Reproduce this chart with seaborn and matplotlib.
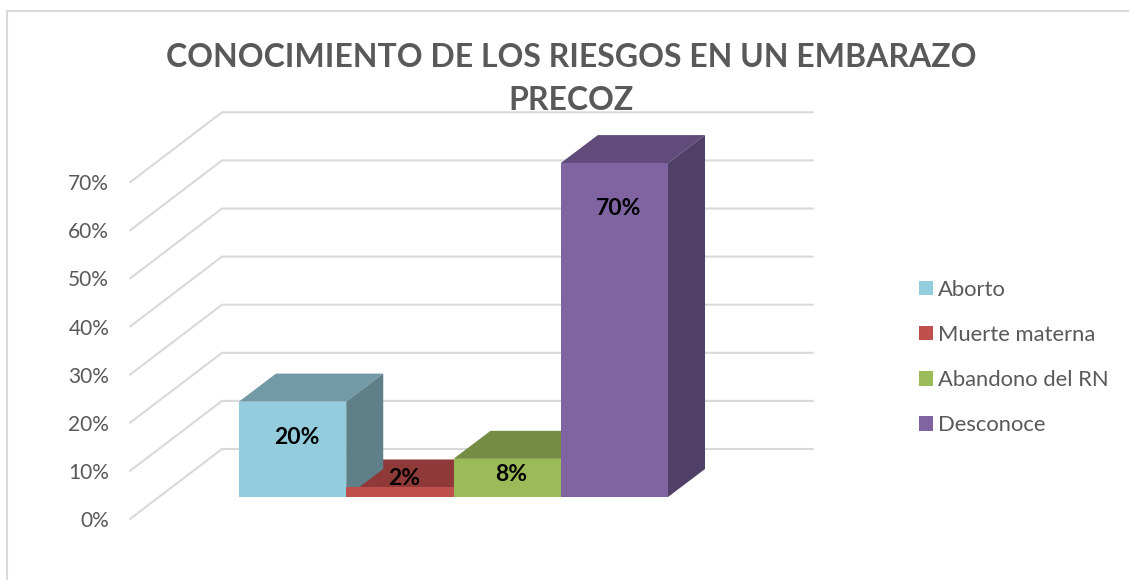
import matplotlib
matplotlib.use('Agg')
import matplotlib.pyplot as plt
import pandas as pd
import seaborn as sns

riesgos = ['Aborto', 'Muerte materna', 'Abandono del RN', 'Desconoce']
porcentajes = [20, 2, 8, 70]
etiquetas = ['20%', '2%', '8%', '70%']
ticks = [0, 10, 20, 30, 40, 50, 60, 70]
tick_labels = ['0%', '10%', '20%', '30%', '40%', '50%', '60%', '70%']

colores = ['#93CDDD', '#C0504D', '#9BBB59', '#8064A2']
colores_top = ['#7299A6', '#8F3A38', '#748C43', '#604B7A']
colores_side = ['#5F8088', '#7A302E', '#62763A', '#503F66']

W, H = 1129, 580
GRID = '#D9D9D9'
TEXTO = '#595959'


def box(left, top, right, bottom):
    # pixel box of the picture to figure fractions
    return [left / W, 1 - bottom / H, (right - left) / W, (bottom - top) / H]


sns.set_theme(style='white')
plt.rcParams['font.family'] = ['Lato', 'DejaVu Sans']

df = pd.DataFrame({'riesgo': riesgos, 'valor': porcentajes})
fig = plt.figure(figsize=(W / 100, H / 100), dpi=100)

# frame of the chart, only top and left are in the picture
fig.add_artist(plt.Line2D([7 / W, 7 / W, 1], [0, 1 - 11 / H, 1 - 11 / H], color=GRID, lw=1.5))

# walls, 4.81 px per percent
wall = fig.add_axes(box(130, 112, 813, 519))
wall.patch.set_alpha(0)
wall.set_xlim(130, 813)
wall.set_ylim(0, 407 / 4.81)
for t in ticks:
    wall.plot([130, 222, 813], [t, t + 70 / 4.81, t + 70 / 4.81], color=GRID, lw=1.5, clip_on=False)
wall.set_xticks([])
wall.set_yticks(ticks)
wall.set_yticklabels(tick_labels, fontsize=15, color=TEXTO)
wall.tick_params(axis='y', length=0, pad=15)
sns.despine(ax=wall, left=True, bottom=True)

# bars, 4.77 px per percent
ax = fig.add_axes(box(239, 135, 668, 497))
ax.patch.set_alpha(0)
sns.barplot(data=df, x='riesgo', y='valor', hue='riesgo', hue_order=riesgos, palette=colores,
            saturation=1, width=1, legend=True, linewidth=0, ax=ax)
ax.set_xlim(-0.5, 3.5)
ax.set_ylim(0, 362 / 4.77)
for cont in ax.containers:
    for bar in cont:
        bar.set_zorder(3)

dx = 37 / 107.25
dy = 28 / 4.77
for i, v in enumerate(porcentajes):
    ax.fill([i - 0.5, i + 0.5, i + 0.5 + dx, i - 0.5 + dx], [v, v, v + dy, v + dy],
            color=colores_top[i], lw=0, zorder=2, clip_on=False)
    ax.fill([i + 0.5, i + 0.5 + dx, i + 0.5 + dx, i + 0.5], [0, dy, v + dy, v],
            color=colores_side[i], lw=0, zorder=2.5, clip_on=False)

# label heights as placed in the picture
label_y = [12.4, 3.9, 4.8, 60.4]
for i, txt in enumerate(etiquetas):
    ax.text(i + 0.035, label_y[i], txt, ha='center', va='center', fontsize=16.5,
            fontweight='bold', color='black', zorder=5)

handles, labels = ax.get_legend_handles_labels()
ax.legend(handles, labels, loc='center left', bbox_to_anchor=(899 / W, 1 - 357.5 / H),
          bbox_transform=fig.transFigure, frameon=False, fontsize=15.8, labelcolor=TEXTO,
          handlelength=0.64, handleheight=0.64, handletextpad=0.23, labelspacing=1.15)

ax.set_xlabel('')
ax.set_ylabel('')
ax.set_xticks([])
ax.set_yticks([])
sns.despine(ax=ax, left=True, bottom=True)

fig.text(571 / W, 1 - 79 / H, 'CONOCIMIENTO DE LOS RIESGOS EN UN EMBARAZO\nPRECOZ', ha='center', va='center',
         fontsize=23, fontweight='bold', color=TEXTO, linespacing=1.55, zorder=10)

fig.savefig('out.png', dpi=100)
